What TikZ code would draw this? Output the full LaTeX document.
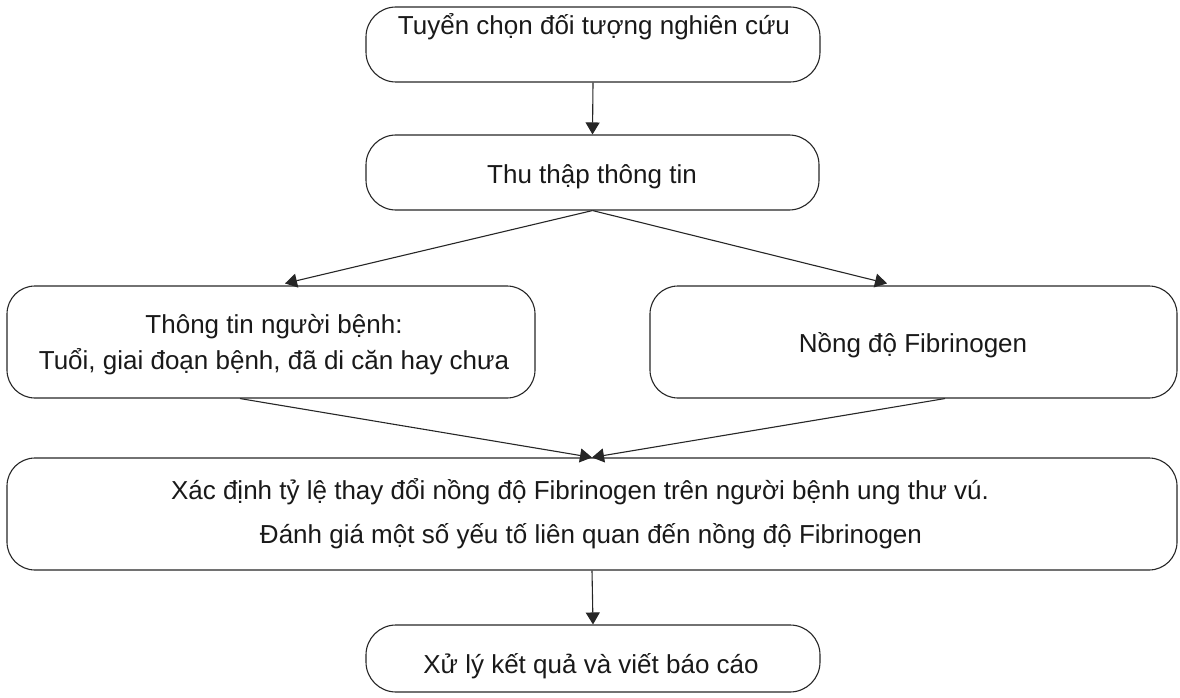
\documentclass[tikz,border=0pt]{standalone}
\usepackage{fontspec}
\setmainfont{Liberation Sans}
\usetikzlibrary{arrows.meta}
\begin{document}
\begin{tikzpicture}[x=1pt,y=-1pt,
  box/.style={draw=black!85,line width=1.1pt,rounded corners=30pt,rectangle,inner sep=0pt},
  bigbox/.style={box,rounded corners=28pt},
  txt/.style={anchor=base,inner sep=0pt,font=\fontsize{26}{31}\selectfont,text=black!90},
  arr/.style={draw=black!85,line width=1.1pt,-{Triangle[length=12pt,width=14pt]}}]
\useasboundingbox (0,0) rectangle (1180,698);
\node[box,minimum width=454pt,minimum height=75pt] (b1) at (593,44.5) {};
\node[box,minimum width=453pt,minimum height=75pt] (b2) at (592.5,172.5) {};
\node[bigbox,minimum width=528pt,minimum height=112pt] (b3) at (271,342) {};
\node[bigbox,minimum width=527pt,minimum height=112pt] (b4) at (913.5,342) {};
\node[bigbox,minimum width=1170pt,minimum height=112pt] (b5) at (592,514) {};
\node[box,minimum width=454pt,minimum height=67pt] (b6) at (593,658.5) {};
\node[txt] (t1) at (594,35) {Tuyển chọn đối tượng nghiên cứu};
\node[txt] (t2) at (592,183) {Thu thập thông tin};
\node[txt] (t3a) at (274,333) {Thông tin người bệnh:};
\node[txt] (t3b) at (274,369) {Tuổi, giai đoạn bệnh, đã di căn hay chưa};
\node[txt] (t4) at (913,352) {Nồng độ Fibrinogen};
\node[txt] (t5a) at (580,499) {Xác định tỷ lệ thay đổi nồng độ Fibrinogen trên người bệnh ung thư vú.};
\node[txt] (t5b) at (591,543) {Đánh giá một số yếu tố liên quan đến nồng độ Fibrinogen};
\node[txt] (t6) at (591,673) {Xử lý kết quả và viết báo cáo};
\draw[arr] (b1.south) -- (b2.north);
\draw[arr] (b2.south) -- ([xshift=14pt,yshift=2pt]b3.north);
\draw[arr] (b2.south) -- ([xshift=-26.5pt,yshift=2pt]b4.north);
\draw[arr] ([xshift=-31pt]b3.south) -- (b5.north);
\draw[arr] ([xshift=31.5pt]b4.south) -- (b5.north);
\draw[arr] (b5.south) -- (b6.north);
\end{tikzpicture}
\end{document}
